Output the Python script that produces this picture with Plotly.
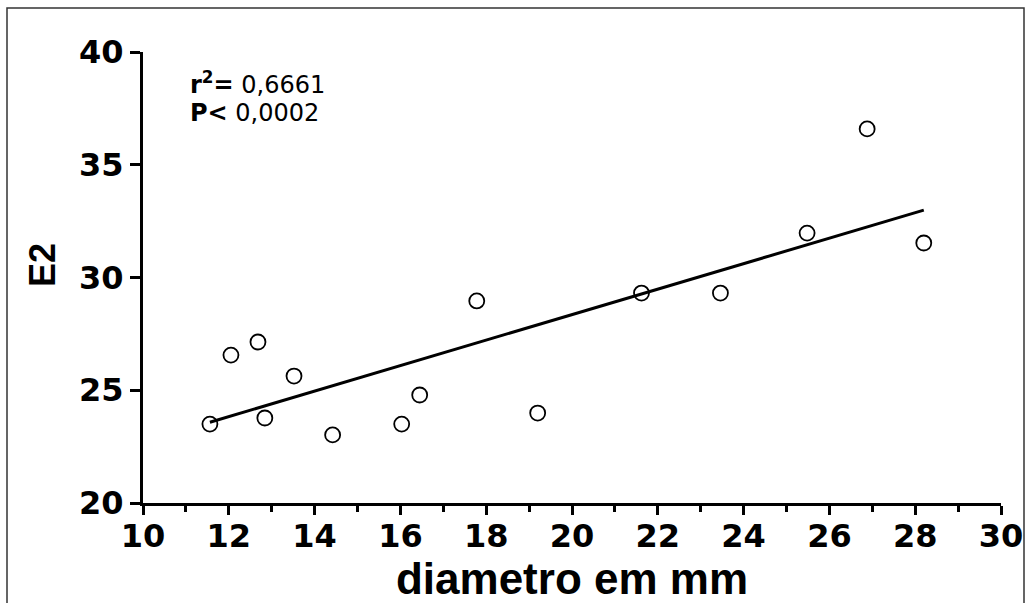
import numpy as np
import plotly.graph_objects as go

diametro = [11.56, 12.05, 12.68, 12.84, 13.52, 14.42, 16.03, 16.45, 17.78, 19.20, 21.62, 23.46, 25.48, 26.88, 28.20]
e2 = [23.50, 26.56, 27.14, 23.77, 25.63, 23.02, 23.50, 24.79, 28.96, 23.99, 29.31, 29.31, 31.97, 36.59, 31.53]
x_ticks = [10, 12, 14, 16, 18, 20, 22, 24, 26, 28, 30]
y_ticks = [20, 25, 30, 35, 40]

slope, intercept = np.polyfit(diametro, e2, 1)
fit_x = [min(diametro), max(diametro)]
fit_y = [slope * v + intercept for v in fit_x]

W, H = 1027, 603
L, R, T, B = 143, 26, 52, 100
pw, ph = W - L - R, H - T - B

def px(xp):
    return (xp - L) / pw

def py(yp):
    return (H - B - yp) / ph

fig = go.Figure()
fig.add_trace(go.Scatter(x=fit_x, y=fit_y, mode="lines",
                         line=dict(color="black", width=3), showlegend=False))
fig.add_trace(go.Scatter(x=diametro, y=e2, mode="markers",
                         marker=dict(symbol="circle-open", size=15, color="black",
                                     line=dict(width=1.8, color="black")),
                         showlegend=False))

arial = "Liberation Sans, Arial, sans-serif"
wide = "DejaVu Sans, Verdana, sans-serif"
fig.update_layout(
    width=W, height=H,
    margin=dict(l=L, r=R, t=T, b=B, autoexpand=False),
    paper_bgcolor="white", plot_bgcolor="white",
    font=dict(family=arial, color="black"),
    xaxis=dict(range=[10, 30], tickvals=x_ticks, ticktext=[str(v) for v in x_ticks],
               automargin=False,
               showline=True, linecolor="black", linewidth=3, showgrid=False, zeroline=False,
               ticks="outside", ticklen=9, tickwidth=3, tickcolor="black",
               minor=dict(dtick=1, ticks="outside", ticklen=6, tickwidth=3, tickcolor="black"),
               tickfont=dict(size=32, weight="bold", family=wide),
               ticklabelstandoff=-6,
               title=dict(text="<b>diametro em mm</b>", font=dict(size=44, family=arial), standoff=9)),
    yaxis=dict(range=[20, 40], tickvals=y_ticks, ticktext=[str(v) for v in y_ticks],
               automargin=False,
               showline=True, linecolor="black", linewidth=3, showgrid=False, zeroline=False,
               ticks="outside", ticklen=10, tickwidth=3, tickcolor="black",
               tickfont=dict(size=32, weight="bold", family=wide),
               ticklabelstandoff=0),
)

fig.add_annotation(xref="paper", yref="paper", x=px(42), y=py(265), xanchor="center", yanchor="middle",
                   text="<b>E2</b>", textangle=-90, showarrow=False,
                   font=dict(size=36, family=arial, color="black"))
fig.add_annotation(xref="paper", yref="paper", x=px(188), y=py(83), xanchor="left", yanchor="middle",
                   text="<b>r<sup>2</sup>=</b> 0,6661", showarrow=False,
                   font=dict(size=24, family=wide, color="black"))
fig.add_annotation(xref="paper", yref="paper", x=px(188), y=py(113), xanchor="left", yanchor="middle",
                   text="<b>P&lt;</b> 0,0002", showarrow=False,
                   font=dict(size=24, family=wide, color="black"))

fig.add_shape(type="rect", xref="paper", yref="paper",
              x0=px(7), x1=px(1024), y0=py(640), y1=py(8),
              line=dict(color="#333333", width=1.5), fillcolor="rgba(0,0,0,0)", layer="below")

fig.write_html("out.html")
